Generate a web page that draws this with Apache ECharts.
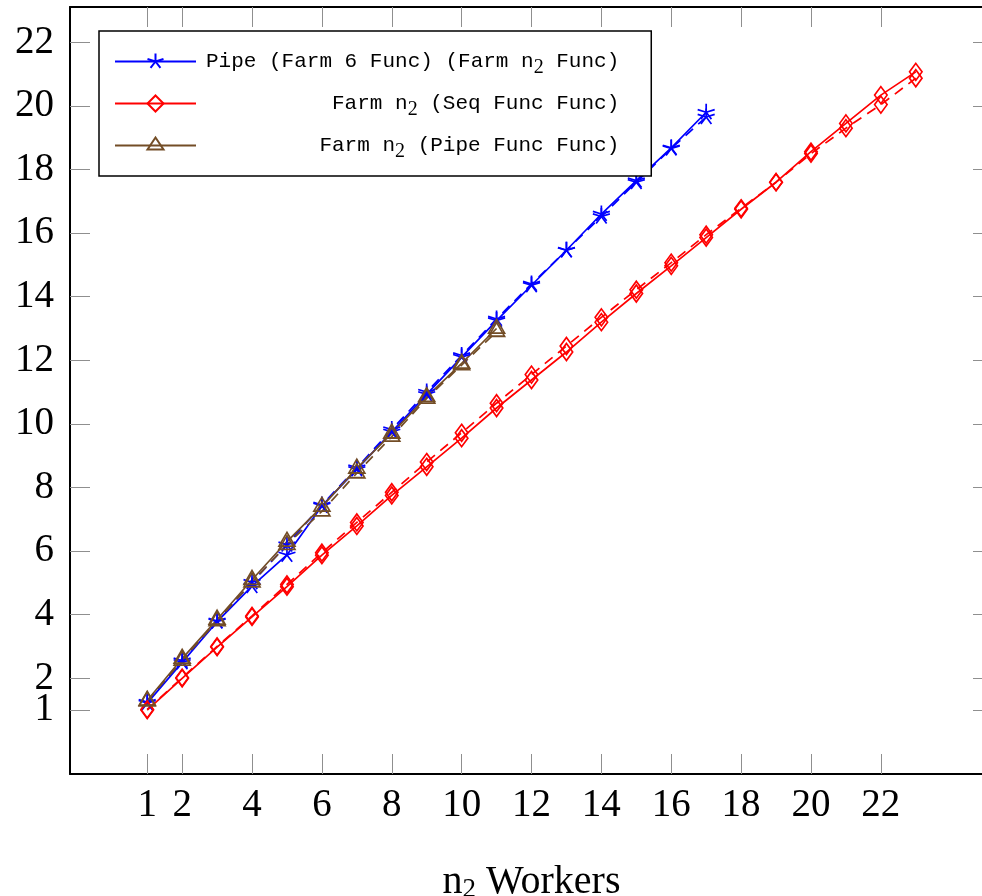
<!DOCTYPE html>
<html><head><meta charset="utf-8">
<script src="https://cdn.jsdelivr.net/npm/echarts@6/dist/echarts.min.js"></script>
<style>html,body{margin:0;padding:0;background:#fff}#c{width:982px;height:896px}</style>
</head><body><div id="c"></div>
<script>
// ---- data ----
const xPipe = [1,2,3,4,5,6,7,8,9,10,11,12,13,14,15,16,17];
const pipeSolid  = [1.22,2.50,3.78,4.90,5.88,7.42,8.57,9.75,10.93,12.10,13.25,14.36,15.46,16.60,17.65,18.68,19.80];
const pipeDashed = [1.25,2.55,3.80,5.02,6.20,7.45,8.62,9.82,11.00,12.15,13.30,14.40,15.46,16.52,17.60,18.66,19.65];

const xPipeFarm = [1,2,3,4,5,6,7,8,9,10,11];
const pipeFarmSolid  = [1.30,2.62,3.85,5.10,6.30,7.40,8.60,9.70,10.85,11.90,13.00];
const pipeFarmDashed = [1.28,2.56,3.80,5.02,6.20,7.25,8.45,9.60,10.80,11.85,12.90];

const xSeq = [1,2,3,4,5,6,7,8,9,10,11,12,13,14,15,16,17,18,19,20,21,22,23];
const seqSolid  = [1.00,2.00,2.98,3.93,4.88,5.87,6.79,7.75,8.65,9.55,10.50,11.38,12.26,13.20,14.10,14.97,15.86,16.75,17.60,18.56,19.45,20.34,21.07];
const seqDashed = [1.02,2.02,3.00,3.96,4.95,5.95,6.90,7.85,8.80,9.72,10.65,11.55,12.45,13.35,14.22,15.07,15.95,16.78,17.60,18.50,19.30,20.04,20.87];

const xTicks = [1,2,4,6,8,10,12,14,16,18,20,22];
const yTicks = [1,2,4,6,8,10,12,14,16,18,20,22];
const yTickFirst = [1];                      // drawn on its own so it is not hidden by overlap
const yTickRest = [2,4,6,8,10,12,14,16,18,20,22];

const nameA = 'Pipe (Farm 6 Func) (Farm n2 Func)';
const nameB = 'Farm n2 (Seq Func Func)';
const nameC = 'Farm n2 (Pipe Func Func)';
const legendRich = {};
legendRich[nameA] = '{m|Pipe (Farm 6 Func) (Farm n}{s|2}{m| Func)}';
legendRich[nameB] = '{m|          Farm n}{s|2}{m| (Seq Func Func)}';
legendRich[nameC] = '{m|         Farm n}{s|2}{m| (Pipe Func Func)}';

// ---- style ----
const BLUE = '#0000ff', RED = '#ff0000', BROWN = '#734d26';
const STAR = 'path://M0,0L0,-10M0,0L-9.511,-3.09M0,0L-5.878,8.09M0,0L5.878,8.09M0,0L9.511,-3.09M0,10';
const TRI = 'path://M0,-10L8.66,5L-8.66,5ZM0,10';

function pairs(xs, ys){ return xs.map((x,i)=>[x, ys[i]]); }
function mk(name, xs, ys, color, symbol, size, dashed){
  return {
    name: name, type: 'line', data: pairs(xs, ys),
    symbol: symbol, symbolSize: size, showSymbol: true,
    lineStyle: {color: color, width: 1.7, type: dashed ? [10,7] : 'solid'},
    itemStyle: {color: 'none', borderColor: color, borderWidth: 1.7},
    emphasis: {disabled: true}, animation: false, z: 2
  };
}

const serif = 'Liberation Serif';
const tickColor = '#8f8f8f';
const YMIN = -1.01, YMAX = 23.11, XMIN = -1.21, XMAX = 25.21;
function axisCommon(){
  return {
    axisLine: {show: true, onZero: false, lineStyle: {color: '#000', width: 2}},
    splitLine: {show: false}
  };
}
function ticks(vals){
  return {show: true, inside: true, length: 20, customValues: vals, lineStyle: {color: tickColor, width: 1}};
}
function labels(vals, margin){
  return {show: true, customValues: vals, hideOverlap: false, showMinLabel: true, showMaxLabel: true,
          margin: margin, color: '#000', fontFamily: serif, fontSize: 39, lineHeight: 28};
}

const chart = echarts.init(document.getElementById('c'), null, {renderer: 'canvas'});
chart.setOption({
  backgroundColor: '#fff',
  animation: false,
  grid: {left: 70, top: 7, width: 923, height: 767, containLabel: false, outerBoundsMode: 'none'},
  xAxis: [
    Object.assign(axisCommon(), {
      type: 'value', min: XMIN, max: XMAX, position: 'bottom',
      axisTick: ticks(xTicks),
      axisLabel: labels(xTicks, 18),
      name: '{n|n}{s|2}{n| Workers}', nameLocation: 'middle', nameGap: 88,
      nameTextStyle: {rich: {
        n: {fontFamily: serif, fontSize: 40, color: '#000', lineHeight: 40},
        s: {fontFamily: serif, fontSize: 27, color: '#000', lineHeight: 20, padding: [15,0,0,0]}
      }}
    }),
    Object.assign(axisCommon(), {
      type: 'value', min: XMIN, max: XMAX, position: 'top',
      axisTick: ticks(xTicks),
      axisLabel: {show: false}
    })
  ],
  yAxis: [
    Object.assign(axisCommon(), {
      type: 'value', min: YMIN, max: YMAX, position: 'left',
      axisTick: ticks(yTicks),
      axisLabel: labels(yTickRest, 16)
    }),
    Object.assign(axisCommon(), {
      type: 'value', min: YMIN, max: YMAX, position: 'right',
      axisTick: ticks(yTicks),
      axisLabel: {show: false}
    }),
    {
      type: 'value', min: YMIN, max: YMAX, position: 'left', offset: 0,
      axisLine: {show: false}, axisTick: {show: false}, splitLine: {show: false},
      axisLabel: labels(yTickFirst, 16)
    }
  ],
  legend: {
    show: true, orient: 'vertical', left: 99, top: 31,
    data: [nameA, nameB, nameC],
    itemWidth: 81, itemHeight: 20, itemGap: 10,
    padding: [14.5, 32, 14.5, 15],
    backgroundColor: '#fff', borderColor: '#000', borderWidth: 1.5, borderRadius: 0,
    selectedMode: false,
    formatter: function(n){ return legendRich[n]; },
    textStyle: {
      padding: [0,0,0,5],
      rich: {
        m: {fontFamily: 'Liberation Mono', fontSize: 21, color: '#000', lineHeight: 24},
        s: {fontFamily: serif, fontSize: 20, color: '#000', lineHeight: 12, padding: [12,0,0,0]}
      }
    }
  },
  series: [
    mk(nameA, xPipe, pipeSolid, BLUE, STAR, 17, false),
    mk(nameA + ' (dashed)', xPipe, pipeDashed, BLUE, STAR, 17, true),
    mk(nameB, xSeq, seqSolid, RED, 'diamond', [12.5, 17], false),
    mk(nameB + ' (dashed)', xSeq, seqDashed, RED, 'diamond', [12.5, 17], true),
    mk(nameC, xPipeFarm, pipeFarmSolid, BROWN, TRI, [16, 18.4], false),
    mk(nameC + ' (dashed)', xPipeFarm, pipeFarmDashed, BROWN, TRI, [16, 18.4], true)
  ]
});
</script>
</body></html>
